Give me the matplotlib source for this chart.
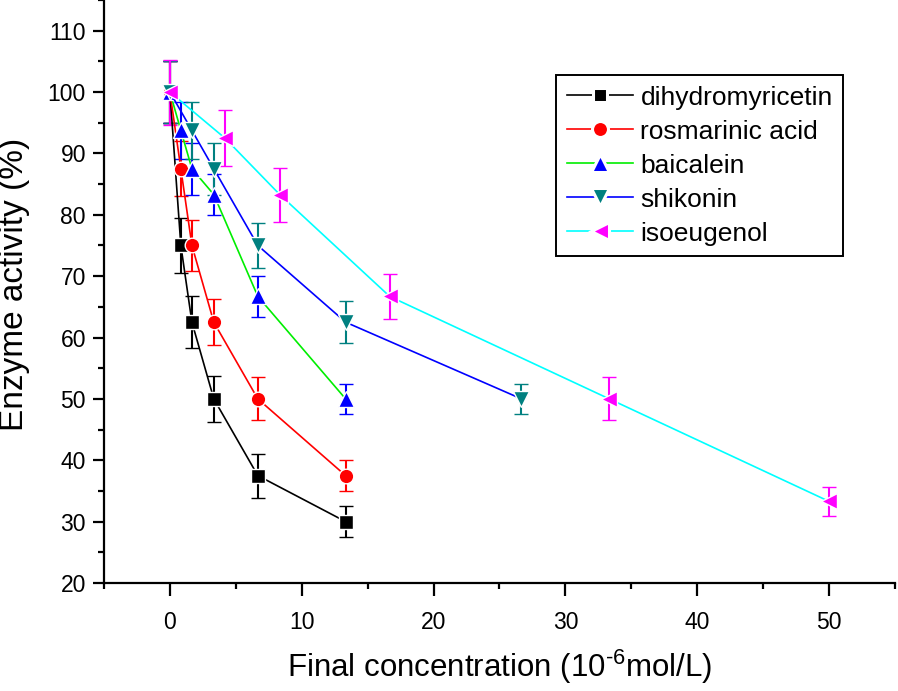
import matplotlib
matplotlib.use('Agg')
import matplotlib.pyplot as plt
from matplotlib.ticker import MultipleLocator
from matplotlib.lines import Line2D

plt.rcParams['font.family'] = ['Liberation Sans', 'DejaVu Sans']
plt.rcParams['mathtext.fontset'] = 'custom'
plt.rcParams['mathtext.rm'] = 'Liberation Sans'

# concentrations (10^-6 mol/L)
x_short = [0, 0.83, 1.67, 3.33, 6.67, 13.33]
x_shikonin = [0, 1.67, 3.33, 6.67, 13.33, 26.67]
x_isoeugenol = [0, 4.17, 8.33, 16.67, 33.33, 50]

# enzyme activity (%) and error bars
y_dihydromyricetin = [100, 75, 62.5, 50, 37.5, 30]
e_dihydromyricetin = [5, 4.5, 4.2, 3.7, 3.6, 2.5]

y_rosmarinic = [100, 87.5, 75, 62.5, 50, 37.5]
e_rosmarinic = [5, 4.5, 4.2, 3.7, 3.5, 2.5]

y_baicalein = [100, 93.75, 87.5, 83.3, 66.7, 50]
e_baicalein = [5, 4.6, 4.2, 3.4, 3.4, 2.5]

y_shikonin = [100, 93.75, 87.5, 75, 62.5, 50]
e_shikonin = [5, 4.6, 4.2, 3.7, 3.4, 2.4]

y_isoeugenol = [100, 92.5, 83.3, 66.7, 50, 33.3]
e_isoeugenol = [5.3, 4.6, 4.4, 3.7, 3.5, 2.4]

labels = ['dihydromyricetin', 'rosmarinic acid', 'baicalein', 'shikonin', 'isoeugenol']

fig = plt.figure(figsize=(8.98, 6.91), dpi=100)
ax = fig.add_axes([0.1158, 0.1563, 0.8808, 0.8437])

series = [
    (x_short, y_dihydromyricetin, e_dihydromyricetin, 's', 9.5, 'black', 'black'),
    (x_short, y_rosmarinic, e_rosmarinic, 'o', 10.5, 'red', 'red'),
    (x_short, y_baicalein, e_baicalein, '^', 11.5, '#00ee00', 'blue'),
    (x_shikonin, y_shikonin, e_shikonin, 'v', 11.5, 'blue', '#008080'),
    (x_isoeugenol, y_isoeugenol, e_isoeugenol, '<', 11.5, 'cyan', 'magenta'),
]

handles = []
for (xs, ys, es, mk, ms, lc, mc), lab in zip(series, labels):
    ax.errorbar(xs, ys, yerr=es, fmt='-', marker=mk, markersize=ms,
                color=lc, mfc=mc, mec='white', mew=1.0, linewidth=1.2,
                ecolor=mc, elinewidth=1.5, capsize=5, capthick=1.5)
    handles.append(Line2D([], [], color=lc, linewidth=1.2, marker=mk,
                          markersize=ms + 1, mfc=mc, mec='white', mew=2.2,
                          label=lab))

ax.set_xlim(-5, 55)
ax.set_ylim(20, 115)
ax.xaxis.set_major_locator(MultipleLocator(10))
ax.xaxis.set_minor_locator(MultipleLocator(5))
ax.yaxis.set_minor_locator(MultipleLocator(5))
ax.set_yticks(range(20, 111, 10))

for s in ['top', 'right']:
    ax.spines[s].set_visible(False)
for s in ['left', 'bottom']:
    ax.spines[s].set_linewidth(1.6)

ax.tick_params(axis='y', which='major', direction='out', width=1.6,
               length=8, pad=5, labelsize=16.5)
ax.tick_params(axis='x', which='major', direction='out', width=1.6,
               length=9, pad=11, labelsize=16.5)
ax.tick_params(axis='both', which='minor', direction='out', width=1.6, length=4.5)

ax.set_xlabel(r'Final concentration (10$^{\text{-6}}$mol/L)', fontsize=22.5, labelpad=10)
ax.set_ylabel('Enzyme activity (%)', fontsize=24)
ax.yaxis.set_label_coords(-0.093, 0.512)

leg = ax.legend(handles=handles, loc='upper left',
                bbox_to_anchor=(556 / 898, 1 - 75 / 691),
                bbox_transform=fig.transFigure, fontsize=19, frameon=True,
                fancybox=False, edgecolor='black', framealpha=1,
                handlelength=2.5, handletextpad=0.3, labelspacing=0.38,
                borderpad=0.4, borderaxespad=0, numpoints=1)
leg.get_frame().set_linewidth(1.4)

fig.savefig('out.png', dpi=100)
